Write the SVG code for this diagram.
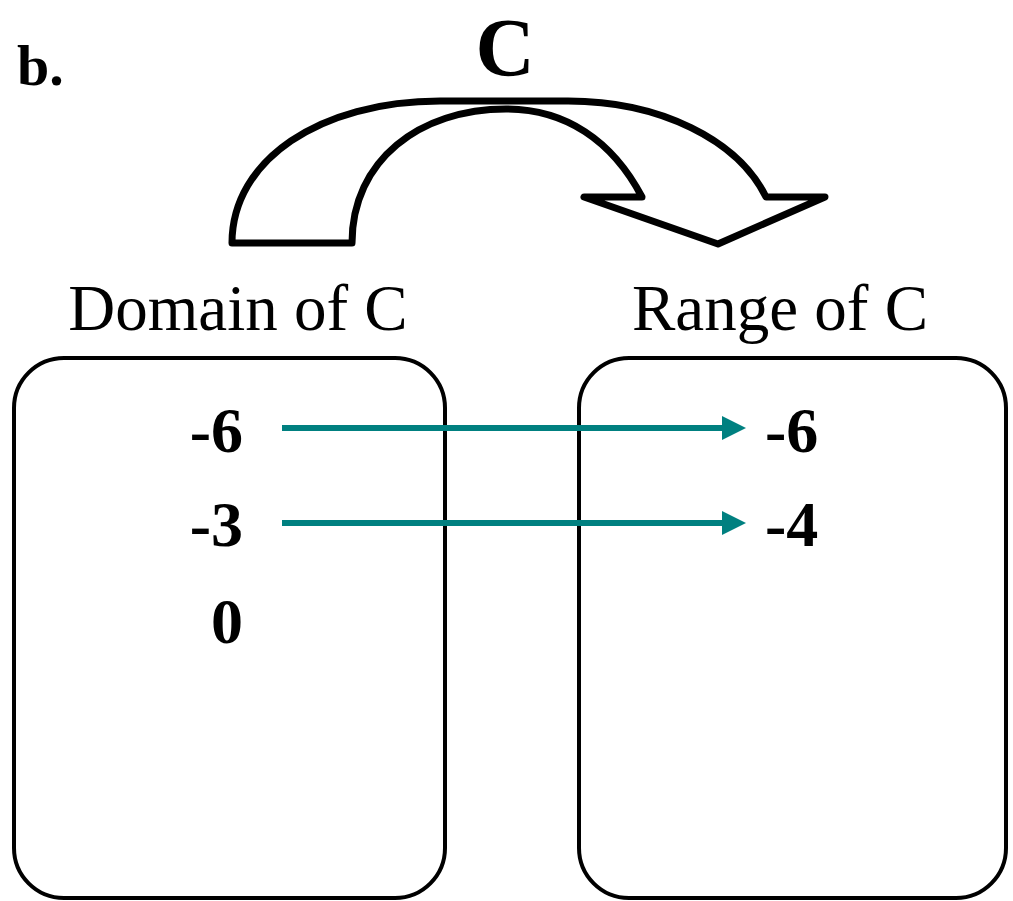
<svg xmlns="http://www.w3.org/2000/svg" width="1013" height="901" viewBox="0 0 1013 901">
<defs>
<style>
.t{font-family:"Liberation Serif","Times New Roman",serif;fill:#000}
.b{font-weight:bold}
.box{fill:none;stroke:#000;stroke-width:4}
.conn{stroke:#008080;stroke-width:6;fill:none}
</style>
<marker id="ah" viewBox="0 0 10 10" refX="0" refY="5" markerUnits="userSpaceOnUse" markerWidth="24" markerHeight="24" orient="auto">
<path d="M0,0 L10,5 L0,10 Z" fill="#008080"/>
</marker>
</defs>
<rect width="1013" height="901" fill="#fff"/>
<g id="label-b"><text class="t b" x="17" y="85" font-size="58">b.</text></g>
<g id="label-C"><text class="t b" x="505" y="75" font-size="82" text-anchor="middle">C</text></g>
<g id="curved-arrow">
<path d="M232,243 C232,160 320,101 440,101 L568,101 C660,101 738,140 766,197 L825,197 L718,244 L584,197 L642,197 C612,140 565,109 506,109 C420,109 352,160 352,243 Z" fill="#fff" stroke="#000" stroke-width="7" stroke-linejoin="round"/>
</g>
<g id="domain">
<text class="t" x="238" y="330" font-size="65" text-anchor="middle">Domain of C</text>
<rect class="box" x="14" y="358" width="431" height="540" rx="50"/>
<text class="t b" x="243" y="452" font-size="64" text-anchor="end">-6</text>
<text class="t b" x="243" y="546" font-size="64" text-anchor="end">-3</text>
<text class="t b" x="243" y="643" font-size="64" text-anchor="end">0</text>
</g>
<g id="range">
<text class="t" x="780" y="330" font-size="65" text-anchor="middle">Range of C</text>
<rect class="box" x="579" y="358" width="427" height="540" rx="50"/>
<text class="t b" x="765" y="452" font-size="64">-6</text>
<text class="t b" x="765" y="546" font-size="64">-4</text>
</g>
<g id="connectors">
<line class="conn" x1="282" y1="428" x2="722" y2="428" marker-end="url(#ah)"/>
<line class="conn" x1="282" y1="523" x2="722" y2="523" marker-end="url(#ah)"/>
</g>
</svg>
